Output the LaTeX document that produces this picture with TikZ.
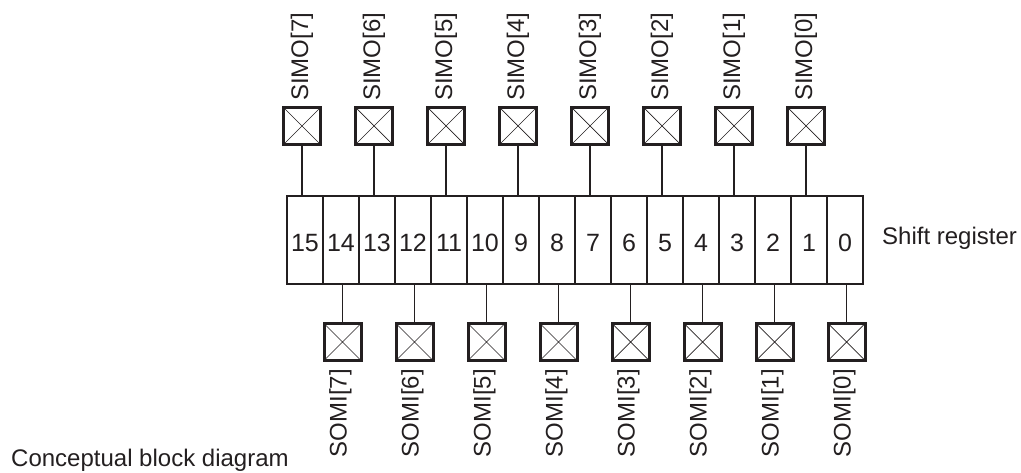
\documentclass[tikz,border=0pt]{standalone}
\usepackage{fontspec}
\setmainfont{Liberation Sans}
\definecolor{ink}{HTML}{231F20}
\begin{document}
\begin{tikzpicture}[x=1pt,y=-1pt,
  every node/.style={text=ink},
  cell/.style={draw=ink, line width=1.8pt, minimum width=36pt, minimum height=88pt, inner sep=0pt, outer sep=0pt,
    font=\fontsize{25}{28}\selectfont, text height=23pt, text depth=0pt},
  pinbox/.style={draw=ink, line width=3pt, minimum size=37pt, inner sep=0pt,
    path picture={\draw[ink, line width=0.7pt] (path picture bounding box.north west) -- (path picture bounding box.south east)
      (path picture bounding box.north east) -- (path picture bounding box.south west);}},
  lbl/.style={font=\fontsize{24}{28}\selectfont, inner sep=0pt, rotate=90},
  txt/.style={font=\fontsize{24}{28}\selectfont, inner sep=0pt},
  simoline/.style={draw=ink, line width=1.6pt},
  somiline/.style={draw=ink, line width=1.1pt}]
\useasboundingbox (0,0) rectangle (1021,473);
% shift register cells
\foreach \b in {0,...,15}{
  \pgfmathsetmacro{\cx}{305+36*(15-\b)}
  \node[cell] (c\b) at (\cx,240) {\b};
}
% SIMO pins
\foreach \k in {0,...,7}{
  \pgfmathsetmacro{\sx}{302+72*(7-\k)}
  \pgfmathtruncatemacro{\cb}{2*\k+1}
  \node[pinbox] (simo\k) at (\sx,126) {};
  \node[lbl, anchor=west] (simol\k) at ([yshift=5pt]simo\k.north) {SIMO[\k]};
  \draw[simoline] (simo\k.south) -- (simo\k.south |- c\cb.north);
}
% SOMI pins
\foreach \k in {0,...,7}{
  \pgfmathsetmacro{\sx}{342.5+72*(7-\k)}
  \pgfmathtruncatemacro{\cb}{2*\k}
  \node[pinbox] (somi\k) at (\sx,342) {};
  \node[lbl, anchor=east] (somil\k) at ([yshift=-7pt,xshift=-2pt]somi\k.south) {SOMI[\k]};
  \draw[somiline] (somi\k.north |- c\cb.south) -- (somi\k.north);
}
\node[txt, anchor=base west] (sr) at (882,244.5) {Shift register};
\node[txt, anchor=base west] (cbd) at (11,466) {Conceptual block diagram};
\end{tikzpicture}
\end{document}
